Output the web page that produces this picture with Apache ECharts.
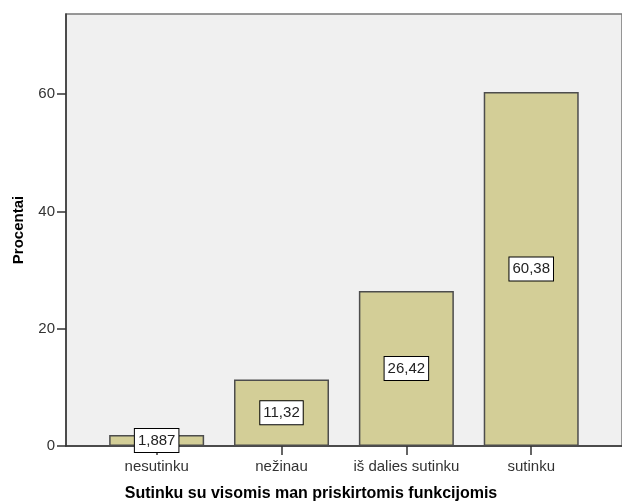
<!DOCTYPE html>
<html>
<head>
<meta charset="utf-8">
<script src="https://cdn.jsdelivr.net/npm/echarts@6/dist/echarts.min.js"></script>
<style>html,body{margin:0;padding:0;background:#fff}#c{width:622px;height:504px}</style>
</head>
<body>
<div id="c"></div>
<script>
var categories = ['nesutinku', 'nežinau', 'iš dalies sutinku', 'sutinku'];
var percents = [1.887, 11.32, 26.42, 60.38];
var yTicks = [0, 20, 40, 60];
var xTitle = 'Sutinku su visomis man priskirtomis funkcijomis';
var yTitle = 'Procentai';

var FONT = '"Liberation Sans", Arial, sans-serif';
var chart = echarts.init(document.getElementById('c'), null, {renderer: 'canvas'});
var idx = categories.map(function (c, i) { return i; });
chart.setOption({
  animation: false,
  grid: {
    left: 66, top: 14, width: 558, height: 432,
    show: true, backgroundColor: '#f0f0f0', borderColor: '#777', borderWidth: 1.5
  },
  xAxis: {
    type: 'value', min: -0.726, max: 3.727,
    splitLine: {show: false},
    axisLine: {show: true, onZero: false, lineStyle: {color: '#333', width: 1.5}},
    axisTick: {show: true, customValues: idx, length: 9, lineStyle: {color: '#333', width: 1.5}},
    axisLabel: {
      customValues: idx, margin: 13,
      formatter: function (v) { return categories[Math.round(v)] || ''; },
      color: '#333', fontSize: 15, fontFamily: FONT
    }
  },
  yAxis: {
    type: 'value', min: 0, max: 73.66,
    splitLine: {show: false},
    axisLine: {show: true, onZero: false, lineStyle: {color: '#333', width: 1.5}},
    axisTick: {show: true, customValues: yTicks, length: 9, lineStyle: {color: '#333', width: 1.5}},
    axisLabel: {customValues: yTicks, margin: 11, color: '#333', fontSize: 15, fontFamily: FONT}
  },
  graphic: [
    {type: 'text', x: 311, y: 494, style: {
      text: xTitle, align: 'center', verticalAlign: 'middle', fontSize: 16, fontWeight: 'bold', fontFamily: FONT, fill: '#000'
    }},
    {type: 'text', x: 11, y: 230, rotation: Math.PI / 2, style: {
      text: yTitle, align: 'center', verticalAlign: 'top', fontSize: 15, fontWeight: 'bold', fontFamily: FONT, fill: '#000'
    }}
  ],
  series: [{
    type: 'bar',
    barWidth: 95,
    data: percents.map(function (v, i) { return [i, v]; }),
    itemStyle: {color: '#d3ce97', borderColor: '#4d4d4d', borderWidth: 1.5},
    label: {
      show: true, position: 'inside',
      formatter: function (p) { return String(p.value[1]).replace('.', ','); },
      color: '#222', fontSize: 15, fontFamily: FONT,
      backgroundColor: '#fff', borderColor: '#000', borderWidth: 1,
      padding: [3, 3, 3, 3], lineHeight: 17
    }
  }]
});
</script>
</body>
</html>
